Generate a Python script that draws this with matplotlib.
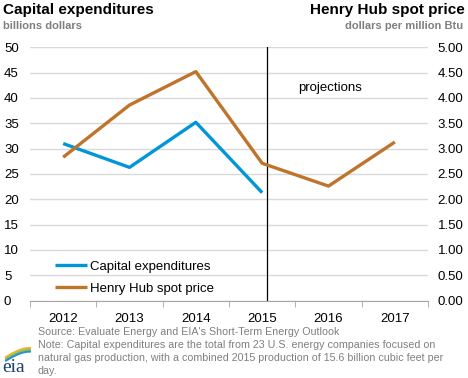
import matplotlib
matplotlib.use("Agg")
import matplotlib.pyplot as plt
import numpy as np

years = ["2012", "2013", "2014", "2015", "2016", "2017"]
capex = [31.0, 26.3, 35.2, 21.3]
henry_hub = [2.83, 3.86, 4.52, 2.71, 2.26, 3.13]
left_ticks = [0, 5, 10, 15, 20, 25, 30, 35, 40, 45, 50]
right_ticks = [0, 0.5, 1.0, 1.5, 2.0, 2.5, 3.0, 3.5, 4.0, 4.5, 5.0]

BLUE = "#0096D7"
BROWN = "#BF742C"
GRAY = "#7f7f7f"

plt.rcParams['font.family'] = ['Liberation Sans', 'DejaVu Sans']

W, H = 468, 378
fig = plt.figure(figsize=(W/100, H/100), dpi=100)
ax = fig.add_axes([30/W, (H-300.6)/H, 398/W, (300.6-47.3)/H])
x = np.arange(len(years))
ax.set_xlim(-0.5, len(years)-0.5)
ax.set_ylim(0, 50)

ax.set_yticks(left_ticks)
ax.set_yticklabels([str(t) for t in left_ticks], fontsize=9.5)
ax.tick_params(axis='y', length=0, pad=(30-4)*0.72)
for lbl in ax.get_yticklabels():
    lbl.set_horizontalalignment('left')
ax.grid(axis='y', color='#d9d9d9', linewidth=1)
ax.set_axisbelow(True)

ax.set_xticks(x)
ax.set_xticklabels(years, fontsize=9.5)
ax.set_xticks(np.arange(-0.5, len(years)), minor=True)
ax.tick_params(axis='x', which='major', length=0, pad=9)
ax.tick_params(axis='x', which='minor', length=4, color='#a6a6a6', direction='out')

for s in ['top', 'left', 'right']:
    ax.spines[s].set_visible(False)
ax.spines['bottom'].set_color('#a6a6a6')

ax2 = ax.twinx()
ax2.set_ylim(0, 5)
ax2.set_yticks(right_ticks)
ax2.set_yticklabels([f"{t:.2f}" for t in right_ticks], fontsize=9.5)
ax2.tick_params(axis='y', length=0, pad=7)
for s in ['top', 'left', 'right', 'bottom']:
    ax2.spines[s].set_visible(False)

l1, = ax.plot(x[:len(capex)], capex, color=BLUE, linewidth=2.4, solid_capstyle='butt', label='Capital expenditures')
l2, = ax2.plot(x, henry_hub, color=BROWN, linewidth=2.4, solid_capstyle='butt', label='Henry Hub spot price')

ax.axvline(3.07, color='black', linewidth=0.9, ymin=0, ymax=1)
ax.text(3.55, 42.0, "projections", fontsize=9.5, ha='left', va='center')

leg = ax.legend([l1, l2], ['Capital expenditures', 'Henry Hub spot price'],
                loc='upper left', bbox_to_anchor=(20/398, 0.18), frameon=False,
                fontsize=9.5, handlelength=2.4, handletextpad=0.2, labelspacing=0.75,
                borderaxespad=0)

fig.text(3/W, 1-3/H, "Capital expenditures", fontsize=11, fontweight='bold', ha='left', va='top')
fig.text(3/W, 1-21/H, "billions dollars", fontsize=8, fontweight='bold', color=GRAY, ha='left', va='top')
fig.text(465/W, 1-3/H, "Henry Hub spot price", fontsize=11, fontweight='bold', ha='right', va='top')
fig.text(463/W, 1-21/H, "dollars per million Btu", fontsize=8, fontweight='bold', color=GRAY, ha='right', va='top')

foot = ["Source: Evaluate Energy and EIA's Short-Term Energy Outlook",
        "Note: Capital expenditures are the total from 23 U.S. energy companies focused on",
        "natural gas production, with a combined 2015 production of 15.6 billion cubic feet per",
        "day."]
for i, t in enumerate(foot):
    fig.text(38/W, 1-(332+13*i)/H, t, fontsize=7.7, color=GRAY, ha='left', va='center')

# eia logo
lax = fig.add_axes([0, 0, 1, 1], facecolor='none')
lax.set_xlim(0, W); lax.set_ylim(H, 0); lax.axis('off')
lax.text(2, 367, "eia", fontsize=14, family='Liberation Serif', color='#1f3f6f', ha='left', va='center')
t = np.linspace(0, 1, 30)
for off, c in [(0, '#f2b233'), (1.8, '#8cc63f'), (3.6, '#2a8fd1')]:
    xs = 6 + 24 * t
    ys = 357 + off - 9 * np.sin(np.pi / 2 * t)
    lax.plot(xs, ys, color=c, linewidth=1.5)

fig.savefig("out.png", dpi=100)
